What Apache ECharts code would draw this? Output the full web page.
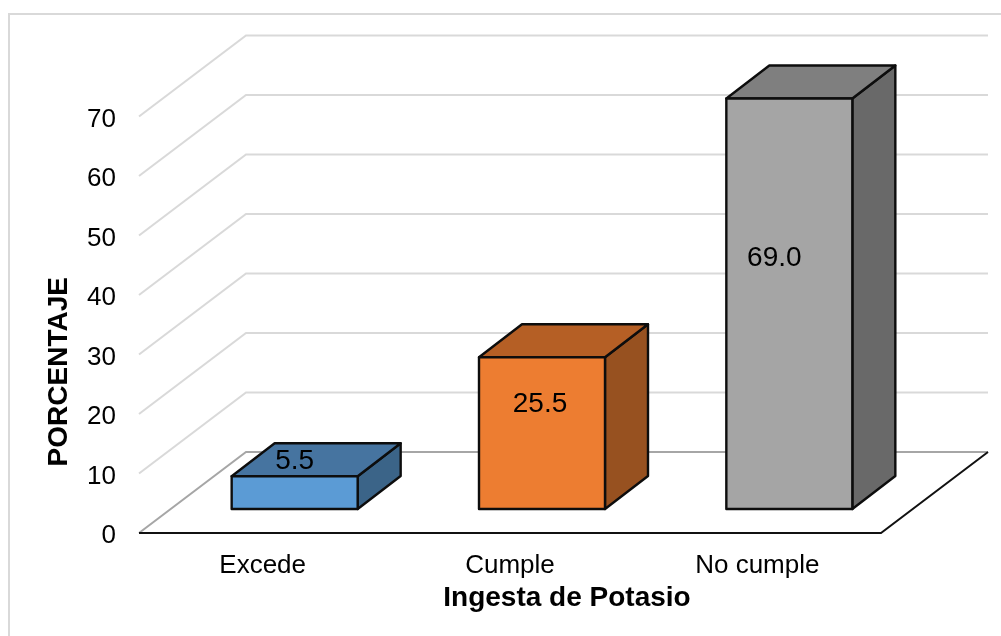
<!DOCTYPE html>
<html>
<head>
<meta charset="utf-8">
<style>
  html, body { margin: 0; padding: 0; background: #fff; }
  #chart { width: 1001px; height: 636px; }
</style>
<script src="https://cdn.jsdelivr.net/npm/echarts@6/dist/echarts.min.js"></script>
</head>
<body>
<div id="chart"></div>
<script>
const categories = ['Excede', 'Cumple', 'No cumple']
const values = [5.5, 25.5, 69.0]
const valueLabels = ['5.5', '25.5', '69.0']
const tickValues = [0, 10, 20, 30, 40, 50, 60, 70]

// front, top, side
const barColors = [
  ['#5b9bd5', '#4674a0', '#3b6488'],
  ['#ed7d31', '#b55f25', '#975120'],
  ['#a5a5a5', '#7f7f7f', '#696969']
]

const FONT = '"Liberation Sans", Arial, sans-serif'
// tick labels sit a little under their gridline in the original, so the grid is
// moved down by this much and the drawn marks are moved back up
const labelDrop = 3
// depth of the whole floor and of one bar, in px
const wallDx = 107, wallDy = -81
const barDx = 43, barDy = -33
// bars stand this far back from the front edge of the floor
const insetDx = 32, insetDy = -24
const barWidth = 126
// where the labels sit, relative to the top middle of the front face
const labelShift = [[0, -15], [-2, 47], [-15, 160]]

const chart = echarts.init(document.getElementById('chart'), null, {renderer: 'canvas'})

const renderWall = (params, api) => {
  const rect = params.coordSys
  const v = api.value(0)
  const y = api.coord([0, v])[1] - labelDrop
  const x0 = rect.x, x1 = rect.x + rect.width
  return {
    type: 'polyline',
    z2: v === 0 ? 1 : 0,
    shape: {points: [[x0, y], [x0 + wallDx, y + wallDy], [x1 + wallDx, y + wallDy]]},
    style: {stroke: v === 0 ? '#a6a6a6' : '#d9d9d9', fill: null, lineWidth: 2}
  }
}

const renderFloor = (params, api) => {
  const rect = params.coordSys
  const y = api.coord([0, 0])[1] - labelDrop
  const x1 = rect.x + rect.width
  return {
    type: 'polyline',
    shape: {points: [[rect.x, y], [x1, y], [x1 + wallDx, y + wallDy]]},
    style: {stroke: '#111', fill: null, lineWidth: 2}
  }
}

const renderBar = (params, api) => {
  const i = api.value(0)
  const base = api.coord([i, 0])
  const head = api.coord([i, api.value(1)])
  const left = base[0] + insetDx - barWidth / 2
  const right = left + barWidth
  const bottom = base[1] + insetDy - labelDrop
  const top = head[1] + insetDy - labelDrop
  const colors = barColors[i]
  const edge = {stroke: '#0d0d0d', lineWidth: 2.4, lineJoin: 'round'}
  const poly = (points, fill) => ({type: 'polygon', shape: {points: points}, style: {fill: fill, ...edge}})
  return {
    type: 'group',
    children: [
      poly([[right, bottom], [right + barDx, bottom + barDy], [right + barDx, top + barDy], [right, top]], colors[2]),
      poly([[left, top], [right, top], [right + barDx, top + barDy], [left + barDx, top + barDy]], colors[1]),
      poly([[left, top], [right, top], [right, bottom], [left, bottom]], colors[0]),
      {
        type: 'text',
        z2: 10,
        style: {
          x: (left + right) / 2 + labelShift[i][0],
          y: top + labelShift[i][1],
          text: valueLabels[i],
          fill: '#000',
          font: '28px ' + FONT,
          align: 'center',
          verticalAlign: 'middle'
        }
      }
    ]
  }
}

chart.setOption({
  animation: false,
  backgroundColor: '#fff',
  // the frame is cut off by the picture on the right and at the bottom
  graphic: [{
    type: 'polyline',
    silent: true,
    shape: {points: [[9, 640], [9, 14], [1005, 14]]},
    style: {fill: null, stroke: '#d9d9d9', lineWidth: 2}
  }],
  grid: {left: 139, top: 116.5 + labelDrop, width: 742, height: 416.5, containLabel: false},
  xAxis: {
    type: 'category',
    data: categories,
    axisLine: {show: false},
    axisTick: {show: false},
    axisLabel: {color: '#000', fontFamily: FONT, fontSize: 26, margin: 17},
    name: 'Ingesta de Potasio',
    nameLocation: 'middle',
    nameGap: 48,
    nameTextStyle: {color: '#000', fontFamily: FONT, fontSize: 28, fontWeight: 'bold', padding: [0, 0, 0, 114]}
  },
  yAxis: {
    type: 'value',
    min: 0,
    max: 70,
    interval: 10,
    axisLine: {show: false},
    axisTick: {show: false},
    splitLine: {show: false},
    axisLabel: {color: '#000', fontFamily: FONT, fontSize: 26, margin: 23},
    name: 'PORCENTAJE',
    nameLocation: 'middle',
    nameGap: 66,
    nameTextStyle: {color: '#000', fontFamily: FONT, fontSize: 28, fontWeight: 'bold', padding: [0, 88, 0, 0]}
  },
  series: [
    {
      type: 'custom',
      renderItem: renderWall,
      data: tickValues.map(v => [v]),
      encode: {y: 0},
      clip: false,
      silent: true,
      z: 1
    },
    {
      type: 'custom',
      renderItem: renderFloor,
      data: [[0]],
      clip: false,
      silent: true,
      z: 2
    },
    {
      type: 'custom',
      renderItem: renderBar,
      data: values.map((v, i) => [i, v]),
      encode: {x: 0, y: 1},
      clip: false,
      silent: true,
      z: 3
    }
  ]
})
</script>
</body>
</html>
